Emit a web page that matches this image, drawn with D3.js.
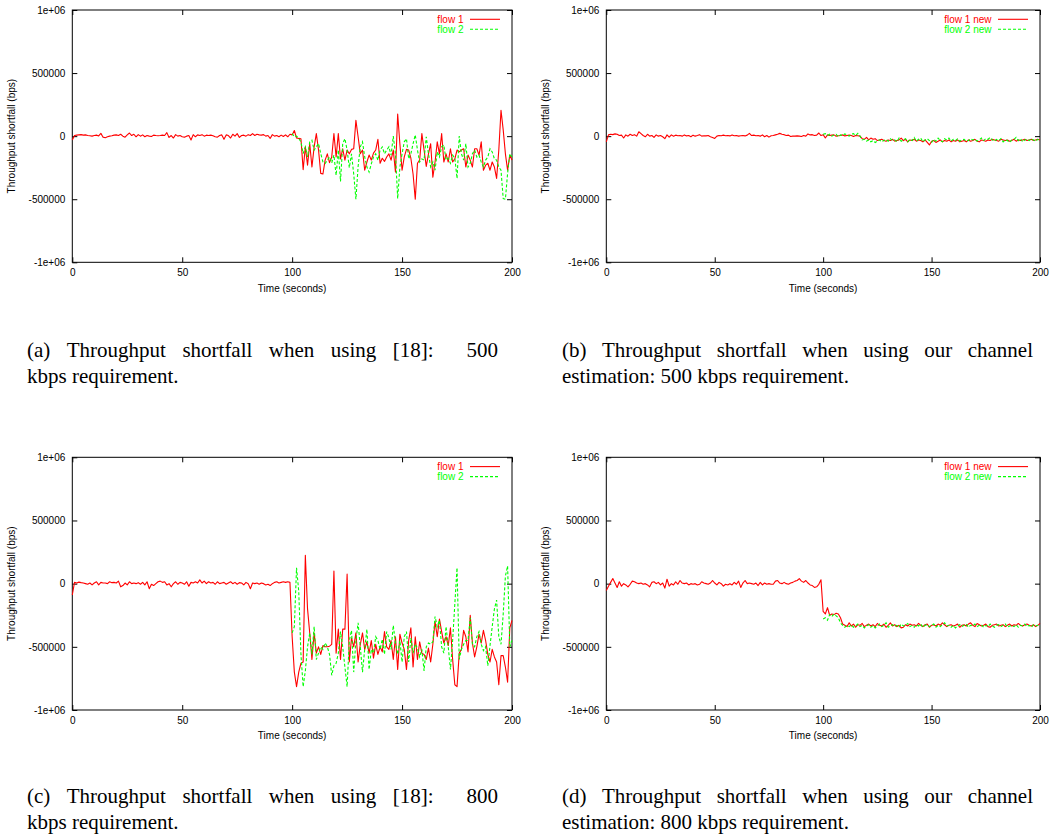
<!DOCTYPE html>
<html>
<head>
<meta charset="utf-8">
<script src="https://cdn.jsdelivr.net/npm/d3@7"></script>
<style>
body { margin: 0; background: #fff; }
.caption { font-family: "Liberation Serif", "Times New Roman", Times, serif; font-size: 21px; fill: #000; }
</style>
</head>
<body>
<svg id="fig" width="1060" height="840"></svg>
<script>

// axis ticks: time in seconds, shortfall in bps
var xTicks = [0, 50, 100, 150, 200];
var yTicks = [-1000000, -500000, 0, 500000, 1000000];
var yTickLabels = ["-1e+06", "-500000", "0", "500000", "1e+06"];

// series values in kbps, one sample per second
// flow 1 runs from t=0, flow 2 only from t=100
var flow1Start = 0;
var flow2Start = 100;

// (a) [18], 500 kbps
var flow1A = [
  -30,5,8,10,12,8,10,5,3,0, 5,8,2,22,-8,-12,-5,0,3,8,
  10,5,15,0,-8,10,25,5,15,-5, 12,0,10,-5,5,0,-3,8,5,3,
  5,8,5,28,-10,5,-15,12,0,5, -5,-8,0,5,-30,12,-5,10,5,12,
  0,8,5,8,3,-5,-8,5,10,-25, 10,5,-15,15,0,20,-10,5,8,0,
  12,5,20,5,15,10,8,12,0,5, -18,12,0,5,-5,8,-3,10,-5,15,
  10,45,-15,-18,-20,-265,-85,-230,-60,-245, -85,20,-110,-295,-300,-190,-140,-210,-165,20,
  -165,20,-180,-100,-190,-110,-140,-105,-100,125, -5,-140,-110,-270,-205,-150,-190,-135,-110,-25,
  -215,-175,-200,-165,-140,-190,-110,-285,175,-60, -270,-165,-105,-110,-175,-300,-500,-215,-190,20,
  -110,-240,-140,-60,-325,-205,-45,-140,20,-205, -140,-205,-100,-205,-180,-110,-125,-110,-100,-245,
  -150,-190,-245,-100,-100,-150,-45,-270,-230,-215, -270,-205,-245,-335,-110,205,50,-140,-270,-150,
  -190
];
var flow2A = [
  21,-5,0,-18,-45,-138,-85,-164,-45,-32, -111,-85,-58,-138,-204,-217,-190,-164,-212,-150,
  -310,-110,-360,-60,-20,-110,-250,-140,-300,-500, -240,-85,-45,-165,-245,-285,-220,-165,-140,-190,
  -110,-85,-140,-110,-85,-150,0,-140,-495,-245, -140,-45,-20,-180,-140,-60,10,-110,-205,-180,
  -190,-5,-140,-245,-205,-270,-125,-165,-85,-70, -190,-175,-215,-150,-175,-335,0,-140,-190,-60,
  -245,-215,-140,-110,-165,-150,-205,-245,-190,-165, -100,-125,-180,-190,-245,-270,-495,-500,-295,-140,
  -165
];

// (b) our channel estimation, 500 kbps
var flow1B = [
  -45,10,15,12,18,15,5,8,-15,10, 0,15,5,12,0,35,20,5,-5,15,
  0,5,-10,10,0,5,-5,-20,10,-8, 10,0,8,3,5,0,10,2,5,-5,
  8,0,5,12,0,3,2,5,-5,-10, -18,0,5,3,8,3,5,2,10,3,
  5,0,3,5,2,8,22,5,8,3, 5,0,10,-5,5,-8,3,5,10,15,
  22,15,12,5,8,-3,0,0,2,0, -3,5,0,18,10,12,5,8,25,5,
  12,-15,10,5,8,10,0,3,5,10, 2,5,8,5,-3,5,3,0,-20,-25,
  -10,-30,-15,-25,-20,-35,-30,-25,-35,-40, -30,-35,-25,-40,-35,-30,-15,-35,-25,-45,
  -30,-35,-25,-40,-30,-35,-45,-30,-50,-70, -40,-35,-50,-40,-30,-45,-35,-40,-30,-45,
  -35,-40,-30,-45,-40,-35,-45,-30,-40,-35, -25,-40,-45,-30,-35,-40,-30,-35,-25,-30,
  -35,-40,-25,-30,-35,-30,-40,-35,-25,-40, -30,-35,-30,-25,-35,-30,-25,-35,-30,-25,
  -30
];
var flow2B = [
  15,20,5,15,0,10,15,-5,10,5, 18,10,0,15,20,5,22,0,-30,-25,
  -40,-30,-45,-35,-50,-40,-30,-45,-35,-25, -40,-20,-35,-30,-45,-15,-40,-30,-20,-45,
  -25,-35,-10,-40,-25,-15,-45,-30,-20,-35, -50,-25,-40,-15,-35,-45,-20,-30,-15,-40,
  -25,-35,-20,-40,-30,-25,-40,-35,-20,-30, -25,-40,-30,-15,-35,-20,-25,-10,-30,-40,
  -25,-35,-20,-45,-30,-35,-50,-30,-25,-10, -35,-20,-45,-30,-25,-35,-20,-30,-40,-25,
  -35
];

// (c) [18], 800 kbps
var flow1C = [
  -90,10,5,12,8,5,0,-5,5,-10, 5,15,-10,10,5,5,0,15,8,10,
  5,20,-25,-15,5,-10,15,0,5,0, 8,-5,10,-10,15,-40,-5,-15,0,15,
  20,10,15,-10,0,-25,0,15,-5,10, 5,-5,15,-20,10,5,15,5,30,5,
  20,0,15,5,10,-5,15,0,5,10, -5,5,15,0,10,-5,8,5,-10,10,
  0,-40,5,0,5,-5,5,0,-10,-5, -15,0,10,15,5,10,15,10,15,10,
  -420,-700,-815,-700,-630,-620,225,-200,-390,-600, -390,-550,-500,-560,-490,-500,-500,-495,-480,100,
  -550,-360,-600,-360,-360,75,-620,-430,-500,-390, -620,-480,-390,-520,-460,-550,-450,-590,-480,-560,
  -500,-540,-380,-500,-520,-450,-600,-420,-680,-400, -470,-520,-680,-450,-350,-660,-420,-600,-460,-550,
  -560,-600,-510,-620,-480,-300,-420,-280,-380,-470, -420,-490,-350,-600,-800,-815,-550,-520,-370,-420,
  -540,-250,-470,-580,-500,-400,-470,-370,-450,-560, -620,-520,-580,-620,-800,-570,-570,-660,-780,-350,
  -290
];
var flow2C = [
  -390,-340,125,-60,-560,-815,-690,-500,-390,-560, -340,-600,-550,-500,-520,-470,-500,-560,-725,-650,
  -630,-550,-380,-500,-660,-815,-450,-370,-700,-450, -310,-500,-700,-520,-360,-680,-520,-550,-420,-450,
  -520,-440,-560,-380,-430,-520,-330,-470,-560,-450, -620,-420,-380,-620,-430,-550,-480,-510,-580,-520,
  -690,-500,-470,-480,-460,-260,-340,-290,-500,-550, -340,-500,-680,-450,-160,125,-600,-520,-480,-450,
  -450,-270,-480,-500,-420,-380,-480,-530,-500,-650, -490,-340,-200,-130,-420,-480,-240,60,140,-500,
  -450
];

// (d) our channel estimation, 800 kbps
var flow1D = [
  -55,-20,10,40,5,-30,15,-20,0,-10, -25,-5,20,15,5,0,5,-5,0,-10,
  -25,10,15,0,10,-10,5,-35,35,-20, 0,-10,15,-5,25,5,0,5,-10,0,
  -5,0,-10,-5,15,5,0,-5,5,25, 5,-10,10,0,-20,-5,-10,0,-10,10,
  -5,20,-30,5,25,0,5,0,-5,5, -15,10,-10,5,-5,0,-5,-5,20,25,
  5,0,10,0,-5,5,10,20,25,40, 20,10,25,5,-10,-15,-30,-25,-5,30,
  -220,-240,-190,-250,-240,-245,-235,-240,-270,-320, -330,-340,-310,-335,-320,-345,-325,-330,-315,-340,
  -330,-320,-335,-325,-340,-315,-330,-335,-320,-345, -330,-310,-335,-325,-340,-330,-350,-345,-325,-335,
  -320,-330,-325,-335,-315,-330,-340,-325,-320,-345, -330,-325,-335,-320,-330,-310,-325,-340,-330,-325,
  -335,-330,-320,-345,-330,-325,-335,-320,-310,-330, -340,-315,-325,-335,-330,-320,-340,-345,-330,-325,
  -320,-335,-330,-325,-340,-330,-320,-335,-325,-330, -315,-330,-335,-325,-320,-330,-335,-325,-340,-330,
  -315
];
var flow2D = [
  -280,-270,-290,-245,-260,-240,-255,-270,-310,-330, -345,-330,-340,-325,-345,-335,-320,-340,-330,-350,
  -335,-325,-345,-330,-350,-335,-320,-340,-330,-310, -345,-335,-325,-340,-330,-345,-320,-335,-330,-315,
  -340,-330,-345,-325,-335,-320,-345,-330,-325,-340, -330,-320,-345,-330,-340,-325,-310,-335,-330,-345,
  -330,-350,-335,-325,-340,-330,-320,-345,-330,-335, -320,-340,-330,-325,-345,-330,-340,-320,-335,-345,
  -330,-325,-340,-330,-320,-345,-335,-330,-340,-325, -345,-330,-335,-320,-340,-330,-345,-325,-335,-330,
  -340
];

var legendOld = ["flow 1", "flow 2"];
var legendNew = ["flow 1 new", "flow 2 new"];

var captions = [
  ["(a) Throughput shortfall when using [18]: 500", "kbps requirement."],
  ["(b) Throughput shortfall when using our channel", "estimation: 500 kbps requirement."],
  ["(c) Throughput shortfall when using [18]: 800", "kbps requirement."],
  ["(d) Throughput shortfall when using our channel", "estimation: 800 kbps requirement."]
];


var svg = d3.select("svg#fig");
var sans = '"Liberation Sans", Arial, Helvetica, sans-serif';

var panels = [
  { left: 72.3,  top: 10,    width: 439.7, height: 252.3, f1: flow1A, f2: flow2A, names: legendOld, caption: captions[0], capX: 27,  capW: 471, capY: 357 },
  { left: 606.3, top: 10,    width: 433.7, height: 252.3, f1: flow1B, f2: flow2B, names: legendNew, caption: captions[1], capX: 562, capW: 471, capY: 357 },
  { left: 72.3,  top: 457.3, width: 439.7, height: 252.7, f1: flow1C, f2: flow2C, names: legendOld, caption: captions[2], capX: 27,  capW: 471, capY: 803 },
  { left: 606.3, top: 457.3, width: 433.7, height: 252.7, f1: flow1D, f2: flow2D, names: legendNew, caption: captions[3], capX: 562, capW: 471, capY: 803 }
];

panels.forEach(drawPanel);


function drawPanel(p) {

  var g = svg.append('g').attr('transform', 'translate(' + p.left + ',' + p.top + ')');

  var xScale = d3.scaleLinear().domain([0, 200]).range([0, p.width]);
  var yScale = d3.scaleLinear().domain([-1000000, 1000000]).range([p.height, 0]);

  // gnuplot style: ticks pointing inwards, mirrored on top and right
  g.append('g').attr('class', 'axis axis--x')
    .attr('transform', 'translate(0,' + p.height + ')')
    .call(d3.axisBottom(xScale).tickValues(xTicks).tickSizeInner(-5).tickSizeOuter(0).tickPadding(7));

  g.append('g').attr('class', 'axis axis--x2')
    .call(d3.axisTop(xScale).tickValues(xTicks).tickSizeInner(-5).tickSizeOuter(0).tickFormat(''));

  g.append('g').attr('class', 'axis axis--y')
    .call(d3.axisLeft(yScale).tickValues(yTicks).tickSizeInner(-5).tickSizeOuter(0).tickPadding(7)
      .tickFormat(function(d, i) { return yTickLabels[i]; }));

  g.append('g').attr('class', 'axis axis--y2')
    .attr('transform', 'translate(' + p.width + ',0)')
    .call(d3.axisRight(yScale).tickValues(yTicks).tickSizeInner(-5).tickSizeOuter(0).tickFormat(''));

  g.selectAll('.domain').remove();
  g.selectAll('.axis').attr('font-family', sans).attr('font-size', 10);
  g.selectAll('.tick line').attr('stroke', '#000');
  g.selectAll('.tick text').attr('fill', '#000');

  g.append('rect')
    .attr('width', p.width)
    .attr('height', p.height)
    .attr('fill', 'none')
    .attr('stroke', '#000')
    .attr('stroke-width', 1);

  // axis titles
  g.append('text')
    .attr('x', p.width / 2)
    .attr('y', p.height + 29.5)
    .attr('text-anchor', 'middle')
    .attr('font-family', sans)
    .attr('font-size', 10)
    .text('Time (seconds)');

  g.append('text')
    .attr('transform', 'translate(-60.5,' + (p.height / 2) + ') rotate(-90)')
    .attr('text-anchor', 'middle')
    .attr('dy', '0.35em')
    .attr('font-family', sans)
    .attr('font-size', 10)
    .text('Throughput shortfall (bps)');

  // series
  var line1 = d3.line()
    .x(function(d, i) { return xScale(flow1Start + i); })
    .y(function(d) { return yScale(d * 1000); });

  var line2 = d3.line()
    .x(function(d, i) { return xScale(flow2Start + i); })
    .y(function(d) { return yScale(d * 1000); });

  g.append('path')
    .attr('d', line1(p.f1))
    .attr('fill', 'none')
    .attr('stroke', '#ff0000')
    .attr('stroke-width', 1.1)
    .attr('stroke-linejoin', 'round');

  g.append('path')
    .attr('d', line2(p.f2))
    .attr('fill', 'none')
    .attr('stroke', '#00ff00')
    .attr('stroke-width', 1.1)
    .attr('stroke-dasharray', '3,2');

  // legend, top right
  var colors = ['#ff0000', '#00ff00'];
  var dashes = [null, '3,2'];
  p.names.forEach(function(name, i) {
    var ly = 9.3 + i * 10;
    g.append('text')
      .attr('x', p.width - 48.5)
      .attr('y', ly)
      .attr('dy', '0.35em')
      .attr('text-anchor', 'end')
      .attr('font-family', sans)
      .attr('font-size', 10)
      .attr('fill', colors[i])
      .text(name);
    g.append('line')
      .attr('x1', p.width - 42)
      .attr('x2', p.width - 12)
      .attr('y1', ly)
      .attr('y2', ly)
      .attr('stroke', colors[i])
      .attr('stroke-width', 1.1)
      .attr('stroke-dasharray', dashes[i]);
  });

  justifyLine(p.caption[0], p.capX, p.capY, p.capW);

  svg.append('text')
    .attr('class', 'caption')
    .attr('x', p.capX)
    .attr('y', p.capY + 26)
    .text(p.caption[1]);
}


// first caption line is justified like TeX: a gap after a colon stretches twice as much
function justifyLine(str, x0, y, w) {
  var words = str.split(' ');
  var t = svg.append('text').attr('class', 'caption').attr('y', y);
  var spans = words.map(function(wd) { return t.append('tspan').text(wd); });
  var widths = spans.map(function(s) { return s.node().getComputedTextLength(); });
  var weights = words.slice(0, -1).map(function(wd) { return /:$/.test(wd) ? 2 : 1; });
  var extra = w - d3.sum(widths);
  var unit = extra / d3.sum(weights);
  var x = x0;
  spans.forEach(function(s, i) {
    s.attr('x', x);
    if (i < weights.length) x += widths[i] + unit * weights[i];
  });
}

</script>
</body>
</html>
